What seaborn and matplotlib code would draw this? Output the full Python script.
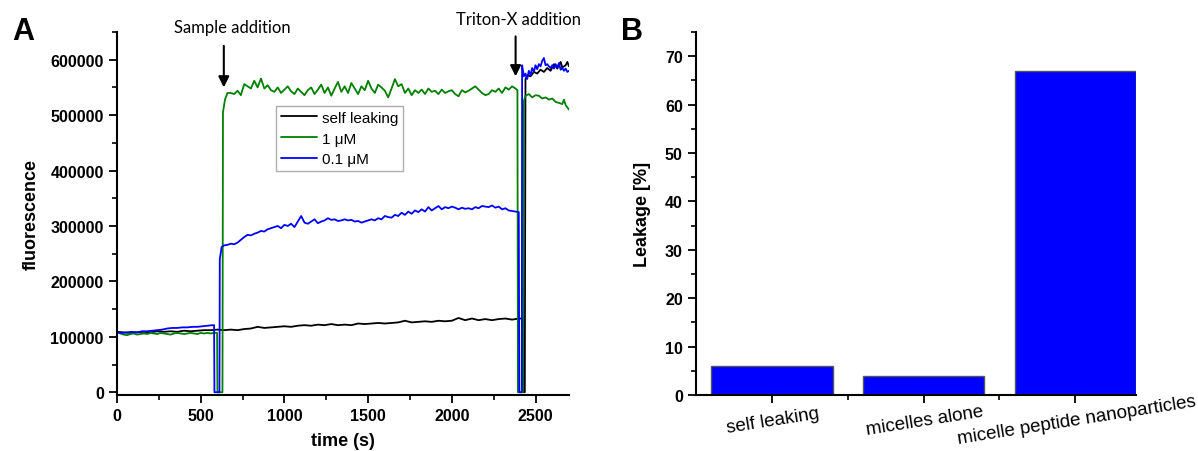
import numpy as np
import pandas as pd
import matplotlib
matplotlib.use("Agg")
import matplotlib.pyplot as plt
from matplotlib.ticker import MultipleLocator
import seaborn as sns

# ---------------- Panel A data (fluorescence, thousands) ----------------
green_t = ([0, 20, 40, 60, 80, 100, 120, 140, 160, 180, 200, 220, 240, 260, 280,
            300, 320, 340, 360, 380, 400, 420, 440, 460, 480, 500, 520, 540, 560, 580,
            598, 600, 630, 633, 645, 660]
           + list(range(680, 2381, 20))
           + [2392, 2395, 2425, 2430, 2440, 2460, 2480, 2500, 2520, 2540, 2560, 2580,
              2600, 2620, 2640, 2660, 2670, 2680, 2700])
green_v = ([108, 106, 104, 103, 105, 106, 104, 105, 106, 105, 107, 106, 105, 107, 106,
            105, 104, 106, 107, 106, 105, 106, 107, 106, 105, 107, 106, 107, 106, 107,
            107, 0, 0, 505, 528, 540]
           + [540, 538, 544, 536, 556, 552, 548, 562, 550, 566, 548, 554, 545, 542, 550, 540, 546,
              552, 543, 538, 548, 542, 536, 545, 550, 538, 546, 555, 540, 550, 535, 548, 560, 542, 552, 540, 558,
              548, 538, 552, 545, 562, 548, 540, 555, 550, 544, 532, 548, 565, 552, 556, 540, 548, 536, 545, 540,
              546, 538, 548, 542, 544, 538, 546, 540, 543, 545, 538, 534, 545, 541, 544, 548, 552, 546, 540, 536,
              538, 545, 542, 548, 540, 550, 546, 552, 548]
           + [545, 0, 0, 525, 535, 538, 532, 536, 535, 530, 532, 528,
              530, 524, 522, 520, 528, 518, 510])

blue_t = ([0, 30, 60, 90, 120, 150, 180, 210, 240, 270, 300, 330, 360, 390, 420,
           450, 480, 510, 540, 570, 580, 582, 612, 614, 625, 640]
          + list(range(660, 2381, 20))
          + [2400, 2403, 2418, 2420, 2430, 2440, 2450, 2460, 2470, 2480, 2490, 2500,
             2510, 2520, 2530, 2540, 2550, 2560, 2570, 2580, 2590, 2600, 2610, 2620,
             2630, 2640, 2650, 2660, 2670, 2680, 2690, 2700])
blue_v = ([108, 107, 108, 109, 108, 110, 110, 111, 112, 113, 115, 116, 116, 117, 117,
           118, 118, 119, 120, 121, 121, 0, 0, 240, 262, 265]
          + [266, 268, 267, 270, 275, 280, 284, 283, 286, 288, 291, 290, 294, 296, 298, 300, 296, 302,
             300, 304, 298, 308, 318, 306, 304, 308, 312, 305, 308, 310, 314, 311, 312, 309, 310, 312, 310, 311,
             308, 309, 306, 308, 310, 312, 310, 314, 312, 318, 316, 315, 320, 318, 324, 320, 326, 322, 328, 325,
             330, 326, 334, 328, 332, 336, 330, 334, 332, 335, 333, 330, 333, 331, 332, 330, 334, 332, 336, 335,
             334, 337, 333, 335, 330, 332, 328, 327, 326]
          + [325, 0, 0, 590, 570, 575, 565, 580, 572, 585, 578, 590,
             583, 592, 588, 598, 603, 590, 592, 588, 585, 590, 584, 592,
             586, 594, 582, 585, 580, 584, 578, 580])

black_t = (list(range(0, 2401, 40))
           + [2425, 2428, 2436, 2440, 2450, 2470, 2490, 2510, 2530, 2550, 2570,
              2590, 2610, 2630, 2650, 2660, 2680, 2690, 2700])
black_v = ([109, 108, 107, 108, 109, 108, 110, 109, 110, 109, 111, 110, 111, 112, 112,
            113, 112, 113, 112, 114, 115, 118, 116, 117, 118, 119, 118, 120, 121, 120,
            122, 121, 123, 121, 122, 121, 124, 123, 124, 125, 124, 125, 126, 129, 126,
            127, 128, 127, 129, 128, 129, 134, 130, 133, 130, 132, 130, 132, 133, 131, 133]
           + [133, 0, 0, 565, 572, 570, 578, 575, 582, 578, 585,
              580, 592, 584, 596, 586, 590, 596, 588])

series_names = ["self leaking", "1 \u03bcM", "0.1 \u03bcM"]
series_colors = ["#000000", "#008000", "#0000ff"]

# ---------------- Panel B data ----------------
categories = ["self leaking", "micelles alone", "micelle peptide nanoparticles"]
leakage = [6, 4, 67]

# ---------------- build frames ----------------
frames = []
for name, t, v in zip(series_names, [black_t, green_t, blue_t], [black_v, green_v, blue_v]):
    frames.append(pd.DataFrame({"time": t, "fluor": np.array(v) * 1000.0,
                                "series": name}))
df = pd.concat(frames, ignore_index=True)
dfb = pd.DataFrame({"cat": categories, "leak": leakage})

sns.set_style("ticks")
plt.rcParams["font.family"] = ["Liberation Sans", "DejaVu Sans"]
for key in ("text.color", "axes.labelcolor", "xtick.color", "ytick.color", "axes.edgecolor"):
    plt.rcParams[key] = "black"

W, H = 1198, 452
fig = plt.figure(figsize=(W / 100, H / 100), dpi=100)

def fr(l, r, t, b):
    return [l / W, 1 - b / H, (r - l) / W, (b - t) / H]

axA = fig.add_axes(fr(117, 569, 33, 396))
axB = fig.add_axes(fr(696, 1136, 33, 396))

# ---------------- Panel A ----------------
sns.lineplot(data=df, x="time", y="fluor", hue="series", hue_order=series_names,
             palette=dict(zip(series_names, series_colors)), estimator=None,
             sort=False, units="series", linewidth=1.3, ax=axA, legend=True)
axA.set_xlim(0, 2700)
axA.set_ylim(-5000, 650000)
axA.xaxis.set_major_locator(MultipleLocator(500))
axA.xaxis.set_minor_locator(MultipleLocator(250))
axA.yaxis.set_major_locator(MultipleLocator(100000))
axA.yaxis.set_minor_locator(MultipleLocator(50000))
axA.set_xlabel("time (s)", fontsize=13, fontweight="bold", labelpad=6)
axA.set_ylabel("fluorescence", fontsize=13, fontweight="bold", labelpad=8)

leg = axA.legend(loc="upper left", bbox_to_anchor=(0.352, 0.796), fontsize=11,
                 frameon=True, fancybox=False, edgecolor="#999999",
                 handlelength=2.4, borderpad=0.3, handletextpad=0.3, labelspacing=0.45,
                 borderaxespad=0)
leg.get_frame().set_linewidth(1.0)

axA.annotate("", xy=(638, 550000), xytext=(638, 625000),
             arrowprops=dict(arrowstyle="-|>", color="black", lw=1.5,
                             mutation_scale=16, shrinkA=0, shrinkB=0))
axA.annotate("", xy=(2381, 570000), xytext=(2381, 642000),
             arrowprops=dict(arrowstyle="-|>", color="black", lw=1.5,
                             mutation_scale=16, shrinkA=0, shrinkB=0),
             annotation_clip=False)
fig.text(232 / W, 1 - 28 / H, "Sample addition", fontsize=12, family="Lato",
         ha="center", va="center")
fig.text(518 / W, 1 - 20 / H, "Triton-X addition", fontsize=12, family="Lato",
         ha="center", va="center")

# ---------------- Panel B ----------------
sns.barplot(data=dfb, x="cat", y="leak", color="#0000ff", saturation=1,
            edgecolor="#555555", linewidth=1.0, width=0.8, ax=axB)
axB.set_xlim(-0.5, 2.4)
axB.set_ylim(0, 75)
axB.yaxis.set_major_locator(MultipleLocator(10))
axB.yaxis.set_minor_locator(MultipleLocator(5))
axB.set_xticks([0.5, 1.5], minor=True)
axB.set_xlabel("")
axB.set_ylabel("Leakage [%]", fontsize=13, fontweight="bold", labelpad=10)
for lab in axB.get_xticklabels():
    lab.set_rotation(9)
    lab.set_rotation_mode("anchor")
    lab.set_ha("center")
    lab.set_va("top")
    lab.set_fontsize(13.5)
axB.tick_params(axis="x", which="major", pad=6)

for ax in (axA, axB):
    sns.despine(ax=ax)
    for s in ("left", "bottom"):
        ax.spines[s].set_linewidth(1.5)
    ax.tick_params(which="major", length=6, width=1.3, direction="out")
    ax.tick_params(which="minor", length=3.5, width=1.2, direction="out")
    ax.tick_params(axis="y", labelsize=11.5)
for lab in axA.get_xticklabels() + axA.get_yticklabels() + axB.get_yticklabels():
    lab.set_fontweight("bold")
axA.tick_params(axis="x", labelsize=11.5)

fig.text(23 / W, 1 - 32 / H, "A", fontsize=22, fontweight="bold", ha="center", va="center")
fig.text(632 / W, 1 - 32 / H, "B", fontsize=22, fontweight="bold", ha="center", va="center")

fig.savefig("out.png", dpi=100)
